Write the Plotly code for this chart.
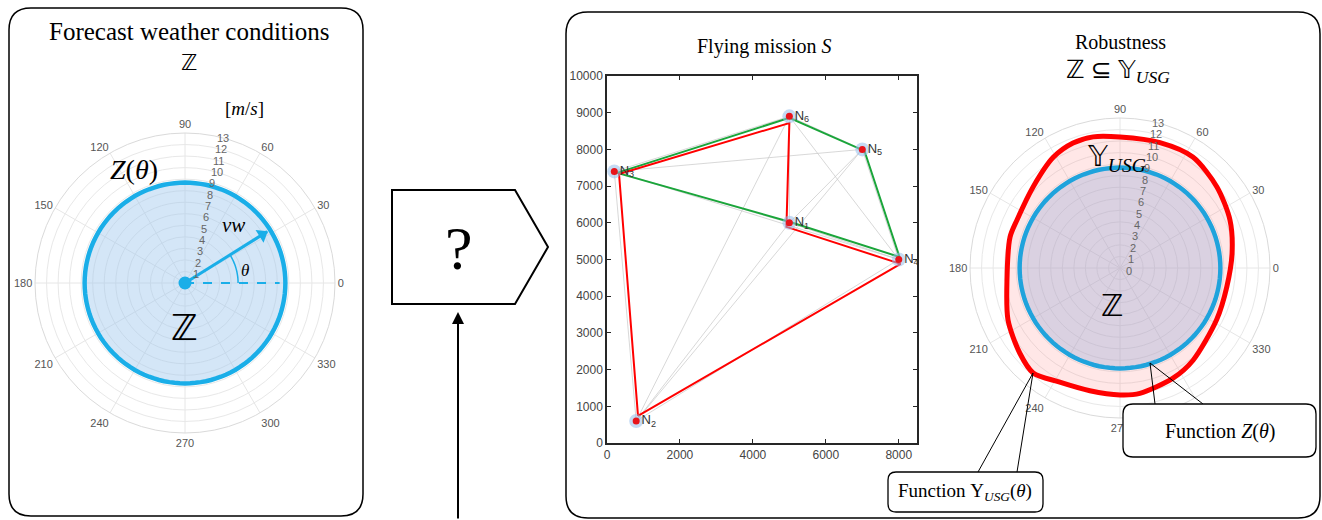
import plotly.graph_objects as go
import itertools

W, H = 1322, 520

# ---------------- data ----------------
angle_ticks = [0, 30, 60, 90, 120, 150, 180, 210, 240, 270, 300, 330]
angle_labels = [str(a) for a in angle_ticks]
radial_ticks_left = list(range(1, 14))
radial_ticks_right = list(range(0, 14))

z_theta = list(range(0, 361, 3))
z_radius = 8.7            # forecast wind speed bound Z(theta) [m/s]
vw_speed = 8.4            # wind vector magnitude
vw_angle = 32             # wind vector direction (deg)
ref_dash_r = 8.2          # dashed reference line length
theta_arc_r = 4.6         # radius of the theta arc

# robustness boundary Y_USG(theta)
usg_theta = [90, 101.6, 110.6, 121.1, 137, 155, 164.3, 186, 204.9, 220.4, 230.4,
             241.8, 256.2, 270, 279, 295.7, 308.4, 331.8, 350, 367.6, 383.6, 399.9,
             416.7, 432.3, 450]
usg_r = [11.35, 11.6, 11.57, 11.2, 10.3, 9.85, 9.9, 9.85, 10.7, 11.4, 11.8,
         11.2, 10.95, 11.0, 11.0, 10.6, 10.2, 9.5, 9.4, 9.8, 10.4, 10.95,
         11.5, 11.4, 11.35]

# flying mission nodes
node_ids = ["1", "2", "3", "4", "5", "6"]
node_x = [5000, 800, 200, 8000, 7000, 5000]
node_y = [6000, 600, 7400, 5000, 8000, 8900]

red_route_x = [850, 330, 5000, 4920, 8050, 850]
red_route_y = [740, 7330, 8720, 5890, 4880, 740]
green_route_x = [275, 5000, 7060, 8020, 5000, 275]
green_route_y = [7360, 8860, 7960, 5070, 6030, 7360]

x_ticks = [0, 2000, 4000, 6000, 8000]
x_tick_text = ["0", "2000", "4000", "6000", "8000"]
y_ticks = [0, 1000, 2000, 3000, 4000, 5000, 6000, 7000, 8000, 9000, 10000]
y_tick_text = ["0", "1000", "2000", "3000", "4000", "5000", "6000", "7000", "8000", "9000", "10000"]

# ---------------- helpers (layout positions in pixels -> paper) ----------------
def PX(x):
    return x / W


def PY(y):
    return 1 - y / H


def rrect(x0, y0, x1, y1, r):
    rx, ry = r / W, r / H
    a, b, c, d = PX(x0), PY(y0), PX(x1), PY(y1)
    return (f"M{a+rx},{b} L{c-rx},{b} Q{c},{b} {c},{b-ry} L{c},{d+ry} Q{c},{d} {c-rx},{d} "
            f"L{a+rx},{d} Q{a},{d} {a},{d+ry} L{a},{b-ry} Q{a},{b} {a+rx},{b} Z")


SERIF = "Liberation Serif, Times New Roman, DejaVu Sans, serif"
SANS = "Liberation Sans, Arial, sans-serif"
BLUE = "#1AAEE8"
BLUE2 = "#1FA3DC"

fig = go.Figure()

# ---------------- left polar ----------------
fig.add_trace(go.Scatterpolar(r=[z_radius] * len(z_theta), theta=z_theta, mode="lines",
                              fill="toself", fillcolor="rgba(160,200,238,0.45)",
                              line=dict(color=BLUE, width=4.5), subplot="polar", showlegend=False))
fig.add_trace(go.Scatterpolar(r=[0, ref_dash_r], theta=[0, 0], mode="lines",
                              line=dict(color=BLUE, width=2, dash="dash"), subplot="polar", showlegend=False))
fig.add_trace(go.Scatterpolar(r=[0, vw_speed], theta=[vw_angle, vw_angle], mode="lines",
                              line=dict(color=BLUE, width=3), subplot="polar", showlegend=False))
fig.add_trace(go.Scatterpolar(r=[vw_speed - 0.5], theta=[vw_angle], mode="markers",
                              marker=dict(symbol="triangle-up", size=13, angle=90 - vw_angle, color=BLUE),
                              subplot="polar", showlegend=False))
arc_t = list(range(0, vw_angle + 1, 2))
fig.add_trace(go.Scatterpolar(r=[theta_arc_r] * len(arc_t), theta=arc_t, mode="lines",
                              line=dict(color=BLUE, width=1.5), subplot="polar", showlegend=False))
fig.add_trace(go.Scatterpolar(r=[0], theta=[0], mode="markers",
                              marker=dict(size=13, color=BLUE), subplot="polar", showlegend=False))

# ---------------- right polar ----------------
fig.add_trace(go.Scatterpolar(r=usg_r, theta=usg_theta, mode="lines", line_shape="spline",
                              line_smoothing=0.8,
                              fill="toself", fillcolor="rgba(255,120,120,0.18)",
                              line=dict(color="#FF0000", width=5), subplot="polar2", showlegend=False))
fig.add_trace(go.Scatterpolar(r=[z_radius] * len(z_theta), theta=z_theta, mode="lines",
                              fill="toself", fillcolor="rgba(150,170,215,0.35)",
                              line=dict(color=BLUE2, width=4.5), subplot="polar2", showlegend=False))

# ---------------- flying mission ----------------
for i, j in itertools.combinations(range(len(node_x)), 2):
    fig.add_trace(go.Scatter(x=[node_x[i], node_x[j]], y=[node_y[i], node_y[j]], mode="lines",
                             line=dict(color="rgba(200,200,200,0.7)", width=1),
                             xaxis="x", yaxis="y", showlegend=False, hoverinfo="skip"))
fig.add_trace(go.Scatter(x=green_route_x, y=green_route_y, mode="lines",
                         line=dict(color="#1AA53A", width=2), showlegend=False))
fig.add_trace(go.Scatter(x=red_route_x, y=red_route_y, mode="lines",
                         line=dict(color="#FF0000", width=2), showlegend=False))
fig.add_trace(go.Scatter(x=node_x, y=node_y, mode="markers",
                         marker=dict(size=14, color="rgba(150,190,235,0.55)"), showlegend=False))
fig.add_trace(go.Scatter(x=node_x, y=node_y, mode="markers+text",
                         marker=dict(size=7, color="#E8141B"),
                         text=[f"N<sub>{k}</sub>" for k in node_ids], textposition="middle right",
                         textfont=dict(family=SANS, size=13, color="#333333"), showlegend=False))

polar_common = dict(
    bgcolor="white",
    angularaxis=dict(direction="counterclockwise", rotation=0, tickvals=angle_ticks,
                     ticktext=angle_labels, showline=True, linecolor="#DADADA", linewidth=1,
                     gridcolor="#E6E6E6", ticks="", tickfont=dict(family=SANS, size=11, color="#555555")),
)

fig.update_layout(
    width=W, height=H, margin=dict(l=0, r=0, t=0, b=0, pad=0, autoexpand=False),
    paper_bgcolor="white", plot_bgcolor="white", showlegend=False,
    polar=dict(domain=dict(x=[PX(35), PX(335)], y=[PY(433), PY(133)]),
               radialaxis=dict(range=[0, 13], tickvals=radial_ticks_left, angle=80, tickangle=80,
                               showline=False, ticks="", gridcolor="#E8E8E8",
                               tickfont=dict(family=SANS, size=11, color="#666666")),
               **polar_common),
    polar2=dict(domain=dict(x=[PX(970), PX(1270)], y=[PY(418), PY(118)]),
                radialaxis=dict(range=[0, 13], tickvals=radial_ticks_right, angle=80, tickangle=80,
                                showline=False, ticks="", gridcolor="#E8E8E8",
                                tickfont=dict(family=SANS, size=11, color="#666666")),
                **polar_common),
    xaxis=dict(domain=[PX(607), PX(917)], range=[0, 8500], tickvals=x_ticks, ticktext=x_tick_text,
               showgrid=False, zeroline=False, showline=True, linecolor="#262626", linewidth=1.5,
               mirror="ticks", ticks="inside", ticklen=4, tickcolor="#262626",
               tickfont=dict(family=SANS, size=12, color="#444444")),
    yaxis=dict(domain=[PY(443), PY(76)], range=[0, 10000], tickvals=y_ticks, ticktext=y_tick_text,
               showgrid=False, zeroline=False, showline=True, linecolor="#262626", linewidth=1.5,
               mirror="ticks", ticks="inside", ticklen=4, tickcolor="#262626",
               tickfont=dict(family=SANS, size=12, color="#444444")),
)

shapes = []
# panel frames
shapes.append(dict(type="path", path=rrect(9, 8, 363, 516, 22), line=dict(color="black", width=1.5),
                   xref="paper", yref="paper", layer="above"))
shapes.append(dict(type="path", path=rrect(566, 12, 1320, 518, 22), line=dict(color="black", width=1.5),
                   xref="paper", yref="paper", layer="above"))
# "?" pentagon
shapes.append(dict(type="path", xref="paper", yref="paper", layer="above",
                   path=f"M{PX(392)},{PY(190)} L{PX(515)},{PY(190)} L{PX(548)},{PY(247)} "
                        f"L{PX(515)},{PY(304)} L{PX(392)},{PY(304)} Z",
                   line=dict(color="black", width=2), fillcolor="white"))
# callout lines
for (x0, y0, x1, y1) in [(1150, 363, 1155, 404), (1150, 363, 1203, 404),
                         (1033, 373, 978, 472), (1033, 373, 1017, 472)]:
    shapes.append(dict(type="line", xref="paper", yref="paper", x0=PX(x0), y0=PY(y0), x1=PX(x1), y1=PY(y1),
                       line=dict(color="black", width=1), layer="above"))
# callout boxes
shapes.append(dict(type="path", path=rrect(1123, 404, 1316, 457, 10), line=dict(color="black", width=1.3),
                   fillcolor="white", xref="paper", yref="paper", layer="above"))
shapes.append(dict(type="path", path=rrect(888, 472, 1043, 512, 8), line=dict(color="black", width=1.3),
                   fillcolor="white", xref="paper", yref="paper", layer="above"))
fig.update_layout(shapes=shapes)


def txt(x, y, s, size, family=SERIF, color="black"):
    fig.add_annotation(x=PX(x), y=PY(y), xref="paper", yref="paper", text=s, showarrow=False,
                       xanchor="center", yanchor="middle", font=dict(family=family, size=size, color=color))


txt(189, 31, "Forecast weather conditions", 25)
txt(189, 62, "ℤ", 22)
txt(244, 108, "[<i>m</i>/<i>s</i>]", 19)
txt(134, 170, "<i>Z</i>(<i>θ</i>)", 28)
txt(233, 225, "<i>vw</i>", 21)
txt(245, 270, "<i>θ</i>", 17)
txt(184, 328, "ℤ", 36)
txt(459, 248, "?", 62)
txt(764, 46, "Flying mission <i>S</i>", 20)
txt(1120, 42, "Robustness", 20)
txt(1118, 72, "ℤ ⊆ 𝕐<sub><i>USG</i></sub>", 25)
txt(1116, 158, "𝕐<sub><i>USG</i></sub>", 28)
txt(1112, 305, "ℤ", 30)
txt(1220, 431, "Function <i>Z</i>(<i>θ</i>)", 20)
txt(965, 492, "Function Υ<sub><i>USG</i></sub>(<i>θ</i>)", 19)

# upward arrow into the "?" block
fig.add_annotation(x=PX(458), y=PY(312), xref="paper", yref="paper", ax=0, ay=212,
                   axref="pixel", ayref="pixel", showarrow=True, arrowhead=2, arrowsize=1.2,
                   arrowwidth=2, arrowcolor="black", text="")

fig.write_html("out.html", config={"displayModeBar": False},
               post_script="document.body.style.margin='0';document.body.style.overflow='hidden';")
